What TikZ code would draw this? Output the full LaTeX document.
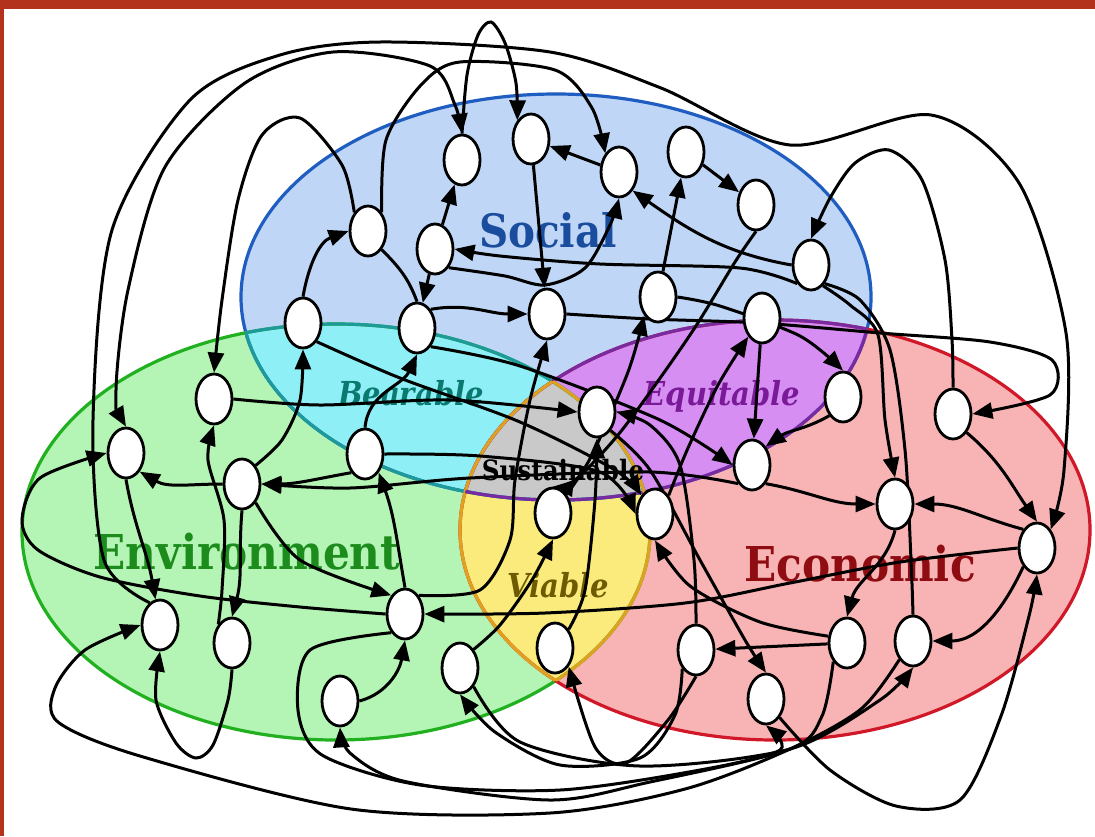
\documentclass[tikz,border=0pt]{standalone}
\usepackage{fontspec}
\usetikzlibrary{arrows.meta,shapes.geometric}
\newfontfamily\vennfont{DejaVu Serif}[FakeStretch=0.88]
\definecolor{framered}{HTML}{B3321C}
\definecolor{socfill}{HTML}{BFD6F6}
\definecolor{envfill}{HTML}{B4F4B4}
\definecolor{ecofill}{HTML}{F8B4B4}
\definecolor{bearfill}{HTML}{8EF0F6}
\definecolor{equifill}{HTML}{D78EF2}
\definecolor{viafill}{HTML}{FBEB7C}
\definecolor{sustfill}{HTML}{C9C9C9}
\definecolor{socline}{HTML}{1F5DC0}
\definecolor{envline}{HTML}{20B020}
\definecolor{ecoline}{HTML}{D01828}
\definecolor{tealline}{HTML}{1E9A9A}
\definecolor{violetline}{HTML}{7A2AA0}
\definecolor{amberline}{HTML}{E0A020}
\definecolor{soctext}{HTML}{1A4D9E}
\definecolor{envtext}{HTML}{1C8C1C}
\definecolor{ecotext}{HTML}{8E0C12}
\definecolor{beartext}{HTML}{0A7A70}
\definecolor{equitext}{HTML}{7A1A98}
\definecolor{viatext}{HTML}{6E5A00}
\pgfdeclarelayer{back}
\pgfdeclarelayer{links}
\pgfsetlayers{back,links,main}
\newcommand\socialshape{(556,297) ellipse [x radius=157.5pt, y radius=101.5pt]}
\newcommand\envshape{(336,532) ellipse [x radius=157pt, y radius=104pt]}
\newcommand\econshape{(775,530) ellipse [x radius=157.5pt, y radius=105pt]}
\tikzset{%
    actor/.style={ellipse, draw=black, fill=white, line width=1.4pt,
        minimum width=18pt, minimum height=25pt, inner sep=0pt},
    flow/.style={line width=1.5pt, -{Triangle[length=10pt,width=8pt]}},
    bothflow/.style={line width=1.5pt,
        {Triangle[length=10pt,width=8pt]}-{Triangle[length=10pt,width=8pt]}},
    plainflow/.style={line width=1.5pt},
    rim/.style={line width=1.6pt},
    bigword/.style={anchor=base, inner sep=0pt,
        font=\vennfont\bfseries\fontsize{24}{24}\selectfont},
    smallword/.style={anchor=base, inner sep=0pt,
        font=\vennfont\bfseries\itshape\fontsize{16.5}{16.5}\selectfont}
}

\begin{document}
\begin{tikzpicture}[x=0.5pt, y=-0.5pt]
\useasboundingbox (0,0) rectangle (1095,836);

\begin{pgfonlayer}{back}
    \fill[white] (0,0) rectangle (1095,836);
    \fill[socfill] \socialshape;
    \fill[envfill] \envshape;
    \fill[ecofill] \econshape;
    \begin{scope}
        \clip \socialshape;
        \fill[bearfill] \envshape;
        \fill[equifill] \econshape;
    \end{scope}
    \begin{scope}
        \clip \envshape;
        \fill[viafill] \econshape;
        \clip \econshape;
        \fill[sustfill] \socialshape;
    \end{scope}
    \draw[rim, socline] \socialshape;
    \draw[rim, envline] \envshape;
    \draw[rim, ecoline] \econshape;
    \begin{scope}
        \clip \socialshape;
        \draw[rim, tealline] \envshape;
        \draw[rim, violetline] \econshape;
    \end{scope}
    \begin{scope}
        \clip \envshape;
        \draw[rim, tealline] \socialshape;
        \draw[rim, amberline] \econshape;
    \end{scope}
    \begin{scope}
        \clip \econshape;
        \draw[rim, violetline] \socialshape;
        \draw[rim, amberline] \envshape;
    \end{scope}
    \node[bigword, text=soctext, font=\vennfont\bfseries\fontsize{23}{23}\selectfont]
        (wsocial) at (548,247) {Social};
    \node[bigword, text=envtext] (wenv) at (247,569) {Environment};
    \node[bigword, text=ecotext] (wecon) at (860,581) {Economic};
    \node[smallword, text=beartext] (wbear) at (411,405) {Bearable};
    \node[smallword, text=equitext] (wequi) at (722,405) {Equitable};
    \node[smallword, text=viatext] (wvia) at (558,597) {Viable};
    \node[anchor=base, inner sep=0pt, font=\vennfont\bfseries\fontsize{14}{14}\selectfont]
        (wsust) at (563,480) {Sustainable};
\end{pgfonlayer}

\node[actor] (s1) at (462,160) {};
\node[actor] (s2) at (531,139) {};
\node[actor] (s3) at (619,172) {};
\node[actor] (s4) at (686,152) {};
\node[actor] (s5) at (756,205) {};
\node[actor] (s6) at (811,265) {};
\node[actor] (s7) at (368,231) {};
\node[actor] (s8) at (435,249) {};
\node[actor] (s9) at (303,323) {};
\node[actor] (s10) at (417,328) {};
\node[actor] (s11) at (547,314) {};
\node[actor] (s12) at (658,297) {};
\node[actor] (s13) at (762,318) {};
\node[actor] (e1) at (214,399) {};
\node[actor] (e2) at (126,453) {};
\node[actor] (e3) at (242,484) {};
\node[actor] (e4) at (365,454) {};
\node[actor] (e5) at (405,614) {};
\node[actor] (e6) at (160,625) {};
\node[actor] (e7) at (232,643) {};
\node[actor] (e8) at (340,701) {};
\node[actor] (e9) at (460,668) {};
\node[actor] (m1) at (597,412) {};
\node[actor] (q1) at (843,397) {};
\node[actor] (q2) at (752,465) {};
\node[actor] (v1) at (553,513) {};
\node[actor] (v2) at (655,514) {};
\node[actor] (v3) at (555,648) {};
\node[actor] (c1) at (953,414) {};
\node[actor] (c2) at (895,504) {};
\node[actor] (c3) at (1037,548) {};
\node[actor] (c4) at (696,650) {};
\node[actor] (c5) at (847,643) {};
\node[actor] (c6) at (913,641) {};
\node[actor] (c7) at (766,699) {};

\begin{pgfonlayer}{links}
    % long loops round the outside
    \draw[flow] plot[smooth] coordinates {(e6.115) (104,560) (93,420) (112,230) (190,100)
        (280,55) (380,42) (550,52) (661,88) (790,145) (931,115) (1019,183) (1066,333)
        (1064,470) (c3.north east)};
    \draw[bothflow] plot[smooth] coordinates {(e2.north) (116,390) (128,290) (165,167)
        (245,83) (333,52) (430,66) (455,105) (s1.north)};
    \draw[flow] plot[smooth] coordinates {(s1.north) (467,75) (478,35) (491,22) (505,43)
        (516,83) (s2.north west)};
    \draw[flow] plot[smooth] coordinates {(s7.north east) (386,140) (421,85) (460,62)
        (555,70) (592,108) (s3.north west)};
    \draw[flow] plot[smooth] coordinates {(s7.north west) (342,165) (300,118) (262,135)
        (238,200) (222,300) (e1.north)};
    \draw[flow] plot[smooth] coordinates {(c1.north) (952,340) (945,260) (922,180)
        (889,150) (855,163) (830,198) (s6.north)};
    \draw[flow] plot[smooth] coordinates {(c6.south west) (861,709) (790,749) (685,789)
        (550,813) (351,809) (140,756) (58,722) (55,688) (85,650) (e6.west)};
    \draw[flow] plot[smooth] coordinates {(c7.south east) (830,770) (896,806) (960,800)
        (1001,716) (1029,616) (c3.south)};

    % social
    \draw[flow] (s9.north) to[out=80,in=200] (s7.west);
    \draw[flow] (s8) -- (s1);
    \draw[flow] (s3) -- (s2);
    \draw[flow] (s4) -- (s5);
    \draw[flow] (s12) -- (s4);
    \draw[flow] (s6.west) to[out=170,in=-35] (s3.south east);
    \draw[flow] plot[smooth] coordinates {(s6.south west) (740,268) (600,264) (500,256)
        (s8.east)};
    \draw[flow] plot[smooth] coordinates {(s8.south east) (505,276) (545,285) (585,268)
        (610,225) (s3.south)};
    \draw[flow] (s8) -- (s10);
    \draw[plainflow] (s7.south east) to[out=-45,in=110] (s10.north);
    \draw[flow] (s10.north east) to[out=10,in=180] (s11.west);
    \draw[flow] (s2) -- (s11);
    \draw[flow] (s13) -- (q2);
    \draw[flow] plot[smooth] coordinates {(s11.east) (650,319) (760,323) (880,333)
        (990,342) (1052,360) (1050,395) (c1.east)};
    \draw[plainflow] plot[smooth] coordinates {(s6.south east) (860,300) (890,350)
        (905,450) (911,560) (c6.north)};
    \draw[flow] plot[smooth] coordinates {(s6.-60) (850,305) (878,335) (885,420)
        (c2.north)};
    \draw[flow] plot[smooth] coordinates {(s12.east) (720,306) (800,336) (q1.north)};
    \draw[flow] plot[smooth] coordinates {(s5.south) (735,262) (690,335) (622,430)
        (575,480) (v1.north)};

    % across the middle
    \draw[flow] plot[smooth] coordinates {(e3.north east) (282,440) (300,400) (s9.south)};
    \draw[flow] (e4.north) to[out=85,in=-115] (s10.south);
    \draw[flow] plot[smooth] coordinates {(v1.north east) (592,455) (628,372)
        (s12.south west)};
    \draw[flow] plot[smooth] coordinates {(v2.north east) (688,448) (718,385)
        (s13.south west)};
    \draw[flow] plot[smooth] coordinates {(e1.east) (320,405) (450,400) (m1.west)};
    \draw[flow] plot[smooth] coordinates {(s9.south east) (400,378) (520,422) (615,470)
        (v2.north west)};
    \draw[flow] plot[smooth] coordinates {(s10.south east) (520,366) (660,420) (q2.west)};
    \draw[flow] plot[smooth] coordinates {(q2.south west) (650,472) (470,478) (350,488)
        (e3.east)};
    \draw[flow] plot[smooth] coordinates {(e4.east) (480,456) (600,472) (v2.west)};
    \draw[flow] plot[smooth] coordinates {(e5.north east) (480,590) (510,540) (515,480)
        (530,400) (s11.south)};
    \draw[flow] plot[smooth] coordinates {(v3.north east) (585,590) (595,500) (m1.south)};
    \draw[flow] plot[smooth] coordinates {(c4.north) (694,560) (680,465) (650,425)
        (m1.east)};
    \draw[flow] plot[smooth] coordinates {(m1.south east) (650,470) (700,560) (745,640)
        (c7.north)};

    % economic
    \draw[flow] (q1.south west) to[out=-150,in=35] (q2.north east);
    \draw[flow] (q2.south east) to[out=-10,in=180] (c2.west);
    \draw[flow] (c3.north west) to[out=165,in=0] (c2.east);
    \draw[flow] (c1.south east) to[out=-40,in=125] (c3.north);
    \draw[flow] (c2.south) to[out=-105,in=75] (c5.north);
    \draw[flow] (c3.south west) to[out=-115,in=0] (c6.east);
    \draw[flow] (c5) -- (c4);
    \draw[flow] plot[smooth] coordinates {(c5.160) (760,622) (690,586) (v2.south)};
    \draw[flow] plot[smooth] coordinates {(c3.west) (900,562) (790,583) (685,603)
        (545,613) (e5.east)};
    \draw[flow] plot[smooth] coordinates {(c4.south) (668,720) (626,763) (595,747)
        (v3.south east)};

    % environment
    \draw[flow] plot[smooth] coordinates {(e5.west) (300,607) (200,596) (100,577)
        (38,550) (22,520) (40,478) (e2.west)};
    \draw[flow] (e2.south) to[out=-80,in=100] (e6.100);
    \draw[flow] (e4.south west) to[out=190,in=0] (e3.east);
    \draw[flow] (e5.north) to[out=100,in=-70] (e4.south east);
    \draw[flow] plot[smooth] coordinates {(e7.north west) (222,590) (224,520) (208,460)
        (e1.south)};
    \draw[flow] (e3.south) to[out=-95,in=75] (e7.north);
    \draw[flow] (e3.west) to[out=180,in=-30] (e2.south east);
    \draw[flow] plot[smooth] coordinates {(e3.south east) (300,560) (e5.north west)};
    \draw[flow] plot[smooth] coordinates {(e7.south) (228,700) (213,745) (196,758)
        (176,743) (156,700) (e6.south)};
    \draw[flow] (e8.east) to[out=15,in=-100] (e5.south);
    \draw[flow] plot[smooth] coordinates {(e9.north east) (500,625) (532,580) (v1.south)};

    % along the bottom
    \draw[flow] plot[smooth] coordinates {(c5.south west) (822,716) (790,749) (650,782)
        (550,800) (403,781) (350,753) (e8.south)};
    \draw[flow] plot[smooth] coordinates {(e5.south west) (310,650) (298,710) (322,755)
        (420,785) (560,790) (700,770) (780,750) (c7.south)};
    \draw[flow] plot[smooth] coordinates {(c4.south west) (675,715) (640,758) (560,765)
        (495,732) (e9.south)};
    \draw[flow] plot[smooth] coordinates {(e9.south east) (520,742) (640,766) (790,749)
        (880,700) (c6.south)};
\end{pgfonlayer}

\fill[framered] (0,0) rectangle (1095,9);
\fill[framered] (0,0) rectangle (4,836);
\end{tikzpicture}
\end{document}
